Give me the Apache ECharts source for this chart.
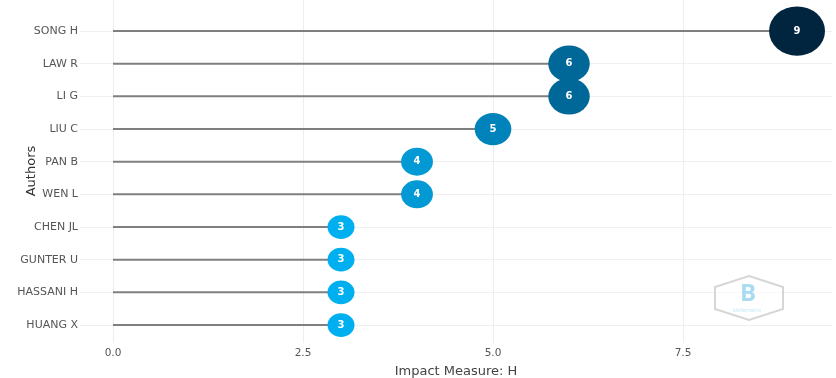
<!DOCTYPE html>
<html>
<head>
<meta charset="utf-8">
<script src="https://cdn.jsdelivr.net/npm/echarts@6/dist/echarts.min.js"></script>
<style>html,body{margin:0;padding:0;background:#fff;}#c{width:836px;height:378px;}</style>
</head>
<body>
<div id="c"></div>
<script>
var authors = ["SONG H","LAW R","LI G","LIU C","PAN B","WEN L","CHEN JL","GUNTER U","HASSANI H","HUANG X"];
var hIndex = [9,6,6,5,4,4,3,3,3,3];
var xTicks = [0, 2.5, 5, 7.5];
var xTickLabels = ["0.0","2.5","5.0","7.5"];
var colorByValue = {3:"#00aff0",4:"#0299d4",5:"#0083ba",6:"#006898",9:"#01253f"};

var rowIdx = authors.map(function(_, i){ return i; });
var pts = hIndex.map(function(v, i){ return [v, i]; });

var chart = echarts.init(document.getElementById('c'));
chart.setOption({
  animation: false,
  grid: {left: 80, right: 4, top: 0, height: 343, containLabel: false, outerBoundsMode: 'none'},
  xAxis: {
    type: 'value', min: -0.434, max: 9.46,
    name: 'Impact Measure: H', nameLocation: 'middle', nameGap: 22,
    nameTextStyle: {fontFamily: 'DejaVu Sans', fontSize: 13, color: '#444'},
    axisLine: {show: false}, axisTick: {show: false, customValues: xTicks},
    axisLabel: {customValues: xTicks, formatter: function(v){ return xTickLabels[xTicks.indexOf(v)]; },
      fontFamily: 'DejaVu Sans', fontSize: 10.5, color: '#555', margin: 5},
    splitLine: {show: true, lineStyle: {color: '#eeeeee', width: 1}}
  },
  yAxis: {
    type: 'value', inverse: true, min: -0.95, max: 9.55,
    axisLine: {show: false}, axisTick: {show: false, customValues: rowIdx},
    axisLabel: {customValues: rowIdx, formatter: function(v){ return authors[v]; },
      fontFamily: 'DejaVu Sans', fontSize: 11, color: '#555', margin: 2},
    splitLine: {show: true, lineStyle: {color: '#f0f0f0', width: 1}}
  },
  series: [
    {
      type: 'custom',
      data: pts,
      renderItem: function(params, api){
        var a = api.coord([0, api.value(1)]);
        var b = api.coord([api.value(0), api.value(1)]);
        return {type: 'line', shape: {x1: a[0], y1: a[1], x2: b[0], y2: b[1]},
          style: {stroke: '#7f7f7f', lineWidth: 2}};
      },
      z: 2
    },
    {
      type: 'scatter',
      data: pts,
      symbol: 'circle',
      symbolSize: function(val){ var w = 12.5 + 4.83 * val[0]; return [w, w * 0.88]; },
      itemStyle: {color: function(p){ return colorByValue[p.value[0]]; }, opacity: 1},
      label: {show: true, position: 'inside', formatter: function(p){ return p.value[0]; },
        color: '#fff', fontWeight: 'bold', fontSize: 10, fontFamily: 'DejaVu Sans'},
      z: 3
    }
  ],
  graphic: [
    {type: 'text', x: 32, y: 171, rotation: Math.PI / 2,
      style: {text: 'Authors', fill: '#333', font: '13px DejaVu Sans', align: 'center', verticalAlign: 'middle'}, z: 12},
    {type: 'polygon', shape: {points: [[749,276],[783,287],[783,309],[749,320],[715,309],[715,287]]},
      style: {fill: 'rgba(255,255,255,0.6)', stroke: '#d6d6d6', lineWidth: 2}, z: 10},
    {type: 'text', left: 740, top: 282, style: {text: 'B', fill: '#a9dcf3', font: 'bold 24px Open Sans'}, z: 11},
    {type: 'text', left: 733, top: 308, style: {text: 'bibliometrix', fill: '#bfe6f7', font: '5px Open Sans'}, z: 11}
  ]
});
</script>
</body>
</html>
